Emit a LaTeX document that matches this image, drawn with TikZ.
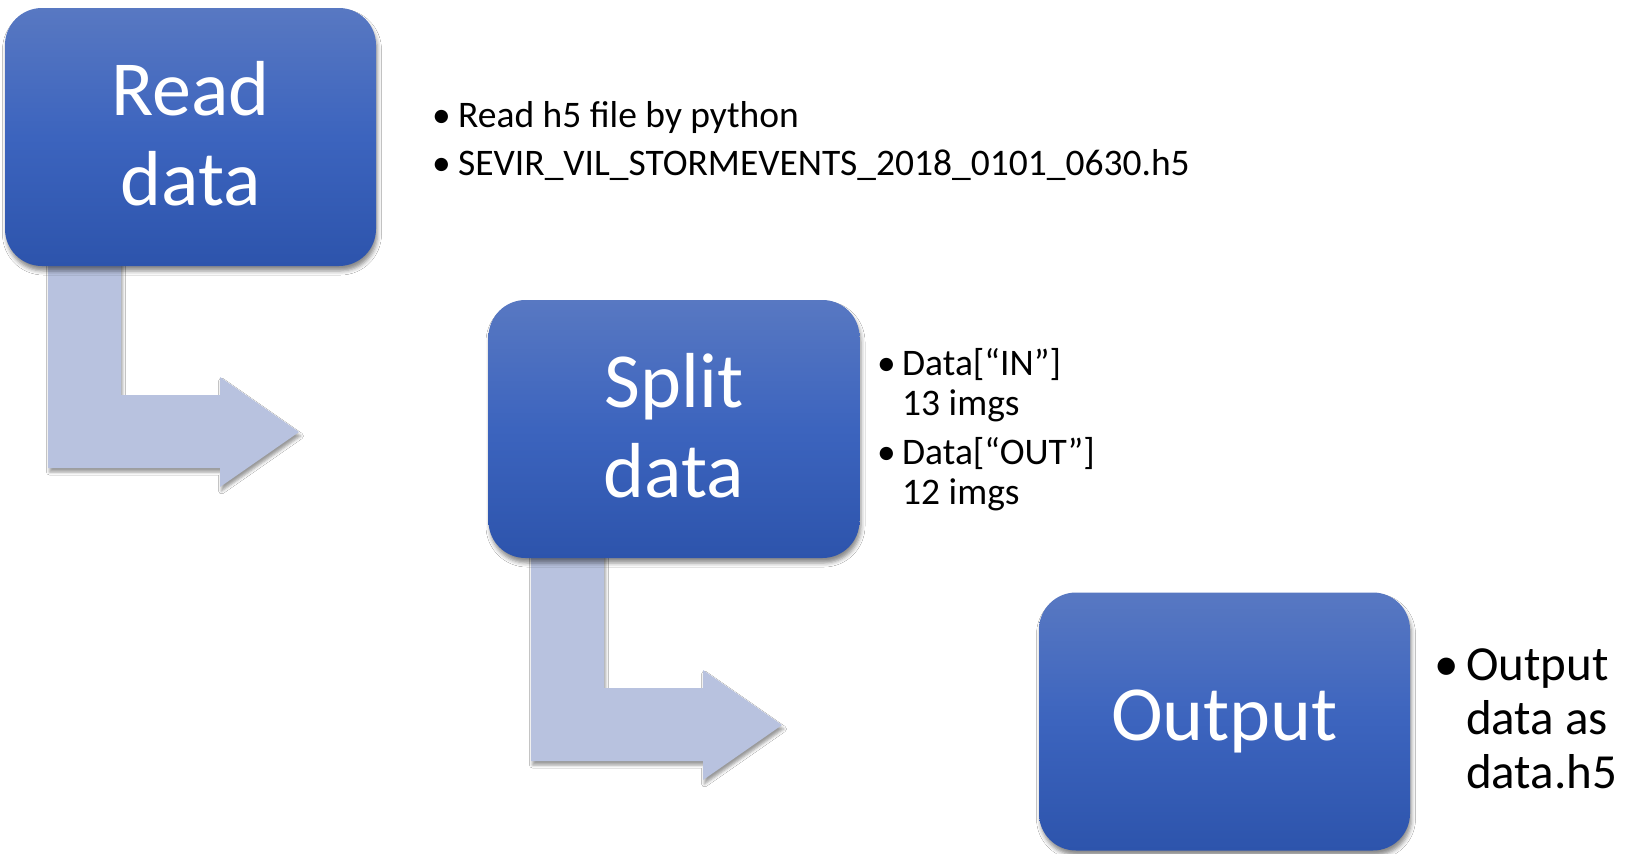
\documentclass[tikz,border=0pt]{standalone}
\usepackage{fontspec}
\setmainfont{Carlito}
\usetikzlibrary{calc,shadows.blur}
\definecolor{boxtop}{RGB}{88,120,194}
\definecolor{boxmid}{RGB}{60,100,190}
\definecolor{boxbot}{RGB}{45,84,172}
\definecolor{arrowfill}{RGB}{184,194,223}
\tikzset{
  stepbox/.style={rectangle, rounded corners=37pt, minimum width=371pt, minimum height=258pt,
    inner sep=0pt, top color=boxtop, bottom color=boxbot, middle color=boxmid,
    text=white, align=center, font=\fontsize{78}{90}\selectfont,
    blur shadow={shadow xshift=1.5pt, shadow yshift=-5pt, shadow blur radius=4pt, shadow opacity=45}},
  bentarrow/.style={fill=arrowfill,
    blur shadow={shadow xshift=1.5pt, shadow yshift=-4pt, shadow blur radius=3pt, shadow opacity=40}},
  bullets/.style={anchor=base west, inner sep=0pt, align=left},
  bent/.pic={
    \fill[bentarrow] (43,-20) -- (116,-20) -- (116,129) -- (215,129) -- (215,111)
      -- (294,166) -- (215,221) -- (215,202) -- (43,202) -- cycle;
  }
}
\begin{document}
\begin{tikzpicture}[x=1pt,y=-1pt]
\useasboundingbox (0,0) rectangle (1628,854);
\fill[white] (0,0) rectangle (1628,854);
% arrows (drawn first, under the boxes)
\coordinate (readbase) at (5,266);
\coordinate (splitbase) at (488,559);
\pic at (readbase) {bent};
\pic at (splitbase) {bent};
% boxes
\node[stepbox, text depth=8pt] (read) at (190.5,137) {Read\\data};
\node[stepbox, text depth=8pt] (split) at (674,429) {Split\\data};
\node[stepbox] (output) at (1224.5,721.5) {Output};
% bullet texts
\node[bullets, font=\fontsize{37.5}{48}\selectfont] (readnotes) at (432,127)
  {\begin{tabular}[t]{@{}p{26pt}@{}l@{}}
   \textbullet & Read h5 file by python\\
   \textbullet & SEVIR\_VIL\_STORMEVENTS\_2018\_0101\_0630.h5
   \end{tabular}};
\node[bullets, font=\fontsize{37.5}{40}\selectfont] (splitnotes) at (877,375)
  {\begin{tabular}[t]{@{}p{25pt}@{}l@{}}
   \textbullet & Data[“IN”]\\
   & 13 imgs\\[9pt]
   \textbullet & Data[“OUT”]\\
   & 12 imgs
   \end{tabular}};
\node[bullets, font=\fontsize{49}{54}\selectfont] (outnotes) at (1434,680)
  {\begin{tabular}[t]{@{}p{32pt}@{}l@{}}
   \textbullet & Output\\
   & data as\\
   & data.h5
   \end{tabular}};
\end{tikzpicture}
\end{document}
